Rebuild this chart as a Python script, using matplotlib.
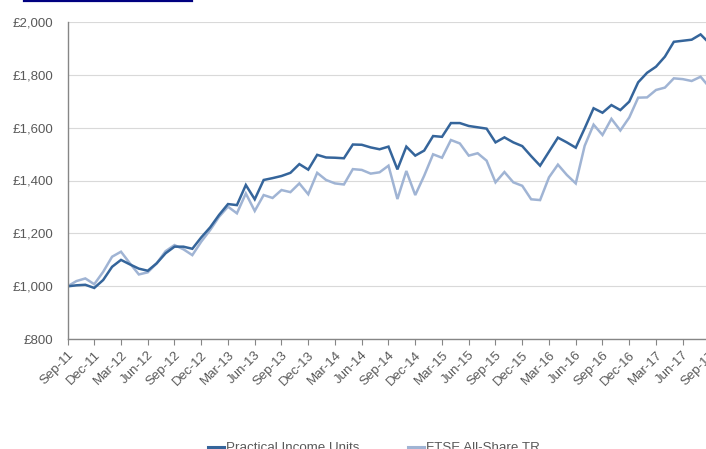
import matplotlib
matplotlib.use("Agg")
import matplotlib.pyplot as plt
from matplotlib.lines import Line2D
from matplotlib.ticker import FuncFormatter, MultipleLocator

plt.rcParams['font.family'] = ['Liberation Sans', 'DejaVu Sans']

# Monthly values Sep-11 .. Sep-17 (73 months)
practical_income = [
    1000, 1004, 1006, 994, 1024, 1074, 1100, 1083, 1067, 1059,
    1087, 1125, 1150, 1150, 1142, 1185, 1223, 1270, 1311, 1307,
    1383, 1329, 1402, 1409, 1417, 1429, 1462, 1441, 1497, 1487,
    1486, 1484, 1536, 1535, 1525, 1518, 1528, 1442, 1528, 1494,
    1513, 1568, 1565, 1617, 1617, 1606, 1601, 1596, 1544, 1563,
    1544, 1530, 1492, 1456, 1509, 1562, 1544, 1524, 1597, 1673,
    1656, 1685, 1666, 1698, 1771, 1807, 1830, 1868, 1924, 1928,
    1932, 1952, 1918,
]
ftse_all_share = [
    1000, 1020, 1030, 1008, 1055, 1112, 1131, 1087, 1045, 1053,
    1087, 1133, 1156, 1140, 1118, 1169, 1213, 1263, 1301, 1276,
    1351, 1285, 1345, 1334, 1364, 1356, 1389, 1348, 1429, 1402,
    1389, 1385, 1443, 1440, 1426, 1431, 1456, 1330, 1436, 1345,
    1418, 1499, 1486, 1553, 1540, 1494, 1503, 1475, 1393, 1432,
    1393, 1380, 1329, 1326, 1412, 1460, 1421, 1389, 1531, 1611,
    1572, 1633, 1589, 1638, 1713, 1714, 1742, 1751, 1786, 1783,
    1776, 1792, 1752,
]
tick_labels = ["Sep-11", "Dec-11", "Mar-12", "Jun-12", "Sep-12", "Dec-12",
               "Mar-13", "Jun-13", "Sep-13", "Dec-13", "Mar-14", "Jun-14",
               "Sep-14", "Dec-14", "Mar-15", "Jun-15", "Sep-15", "Dec-15",
               "Mar-16", "Jun-16", "Sep-16", "Dec-16", "Mar-17", "Jun-17",
               "Sep-17"]
series_names = ["Practical Income Units", "FTSE All-Share TR"]
colors = ["#35659b", "#a0b4d4"]

W, H = 706, 449
fig = plt.figure(figsize=(W / 100, H / 100), dpi=100)
ax = fig.add_axes([67.5 / W, 1 - 339.3 / H, (709.5 - 67.5) / W, (339.3 - 21.7) / H])

months = list(range(len(practical_income)))
ax.plot(months, ftse_all_share, color=colors[1], lw=1.8, solid_joinstyle='miter')
ax.plot(months, practical_income, color=colors[0], lw=1.8, solid_joinstyle='miter')

ax.set_xlim(0, 72)
ax.set_ylim(800, 2000)
ax.yaxis.set_major_locator(MultipleLocator(200))
ax.yaxis.set_major_formatter(FuncFormatter(lambda v, p: "£{:,.0f}".format(v)))
ax.set_xticks(range(0, 73, 3))
ax.set_xticklabels(tick_labels, rotation=45, ha='right', rotation_mode='anchor')

ax.grid(axis='y', color='#d9d9d9', lw=0.8)
ax.set_axisbelow(True)
for s in ['top', 'right']:
    ax.spines[s].set_visible(False)
for s in ['left', 'bottom']:
    ax.spines[s].set_color('#868686')
    ax.spines[s].set_linewidth(1.0)
ax.tick_params(axis='both', colors='#868686', labelcolor='#595959', labelsize=9.5,
               width=0.8)
ax.tick_params(axis='x', length=4, pad=3)
ax.tick_params(axis='y', length=0, pad=10)

# top-left navy rule
fig.add_artist(Line2D([24 / W, 192 / W], [1 - 1 / H, 1 - 1 / H], color='#000080', lw=1.6))

handles = [Line2D([], [], color=colors[0], lw=2.2), Line2D([], [], color=colors[1], lw=2.2)]
fig.legend(handles, series_names, loc='center', bbox_to_anchor=(374 / W, 1 - 448 / H),
           ncol=2, frameon=False, fontsize=9.6, handlelength=1.2, handletextpad=0.15,
           columnspacing=3.6, labelcolor='#595959')

fig.savefig("out.png", dpi=100)
